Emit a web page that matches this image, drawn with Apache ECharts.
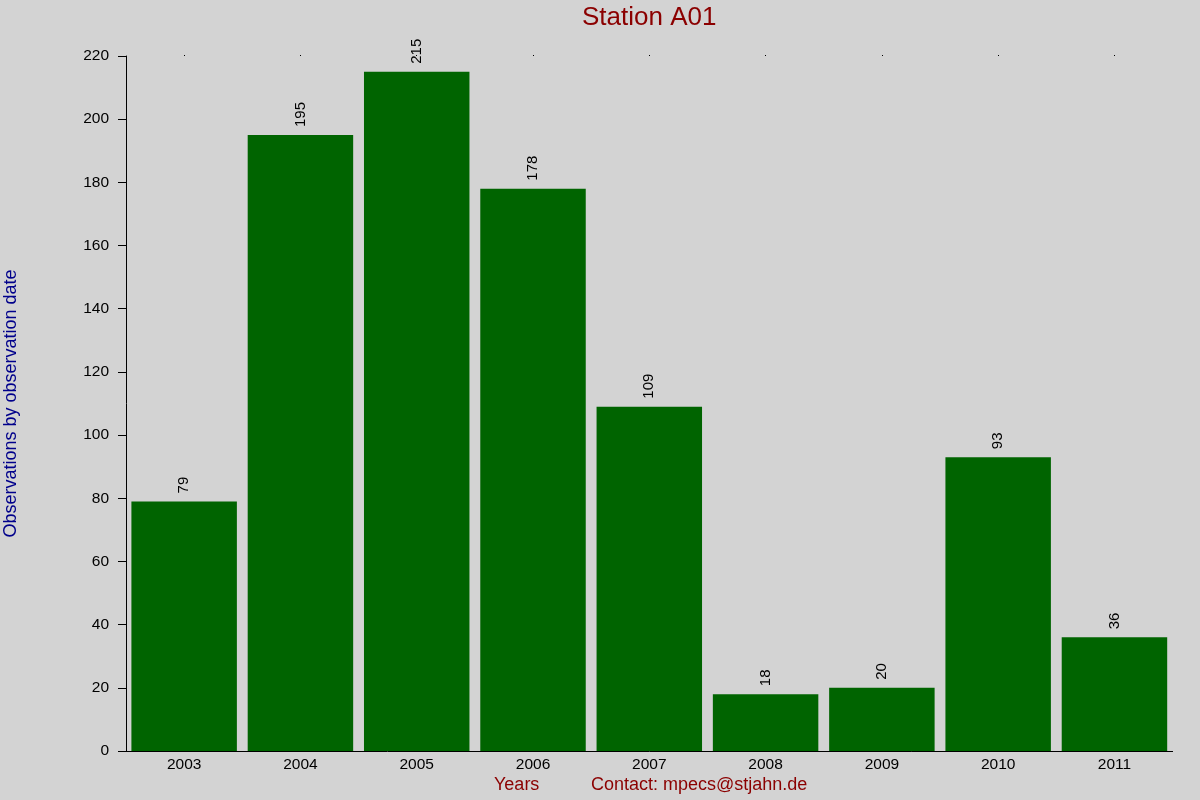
<!DOCTYPE html>
<html>
<head>
<meta charset="utf-8">
<script src="https://cdn.jsdelivr.net/npm/echarts@6/dist/echarts.min.js"></script>
<style>
html,body{margin:0;padding:0;background:#d3d3d3;}
#c{width:1200px;height:800px;}
</style>
</head>
<body>
<div id="c"></div>
<script>
const years = ['2003','2004','2005','2006','2007','2008','2009','2010','2011'];
const observations = [79, 195, 215, 178, 109, 18, 20, 93, 36];
const yTicks = { min: 0, max: 220, interval: 20 };

const chart = echarts.init(document.getElementById('c'));
const font = 'Liberation Sans, Arial, sans-serif';
chart.setOption({
  backgroundColor: '#d3d3d3',
  animation: false,
  title: {
    text: 'Station A01',
    left: 577, top: 0,
    textStyle: { color: '#8b0000', fontSize: 26, fontWeight: 'normal', fontFamily: font }
  },
  grid: { left: 126, right: 27.4, top: 56, bottom: 49, containLabel: false, outerBoundsMode: 'none' },
  xAxis: [{
    type: 'category',
    data: years,
    boundaryGap: true,
    axisLine: { show: true, lineStyle: { color: '#000', width: 1 } },
    axisTick: { show: false },
    axisLabel: { color: '#000', fontSize: 15.5, fontFamily: font, margin: 6 },
    splitLine: { show: false }
  }, {
    type: 'category',
    data: years,
    position: 'top',
    axisLine: { show: false },
    axisTick: { show: true, alignWithLabel: true, length: 1, lineStyle: { color: '#000' } },
    axisLabel: { show: false },
    splitLine: { show: false }
  }],
  yAxis: {
    type: 'value',
    min: yTicks.min, max: yTicks.max, interval: yTicks.interval,
    axisLine: { show: true, lineStyle: { color: '#000', width: 1 } },
    axisTick: { show: true, length: 8, lineStyle: { color: '#000' } },
    axisLabel: { color: '#000', fontSize: 15.5, fontFamily: font, margin: 17 },
    splitLine: { show: false },
    name: 'Observations by observation date',
    nameLocation: 'middle',
    nameGap: 106,
    nameTextStyle: { color: '#00008b', fontSize: 18, fontFamily: font }
  },
  series: [{
    type: 'bar',
    data: observations,
    barCategoryGap: '9.3%',
    itemStyle: { color: '#006400' },
    label: {
      show: true,
      position: 'top',
      rotate: 90,
      align: 'left',
      verticalAlign: 'middle',
      distance: 8,
      color: '#000',
      fontSize: 15,
      fontFamily: font
    }
  }],
  graphic: [{
    type: 'text',
    left: 494, top: 776,
    style: { text: 'Years', fill: '#8b0000', font: '18px ' + font }
  }, {
    type: 'text',
    left: 591, top: 776,
    style: { text: 'Contact: mpecs@stjahn.de', fill: '#8b0000', font: '18px ' + font }
  }]
});
</script>
</body>
</html>
